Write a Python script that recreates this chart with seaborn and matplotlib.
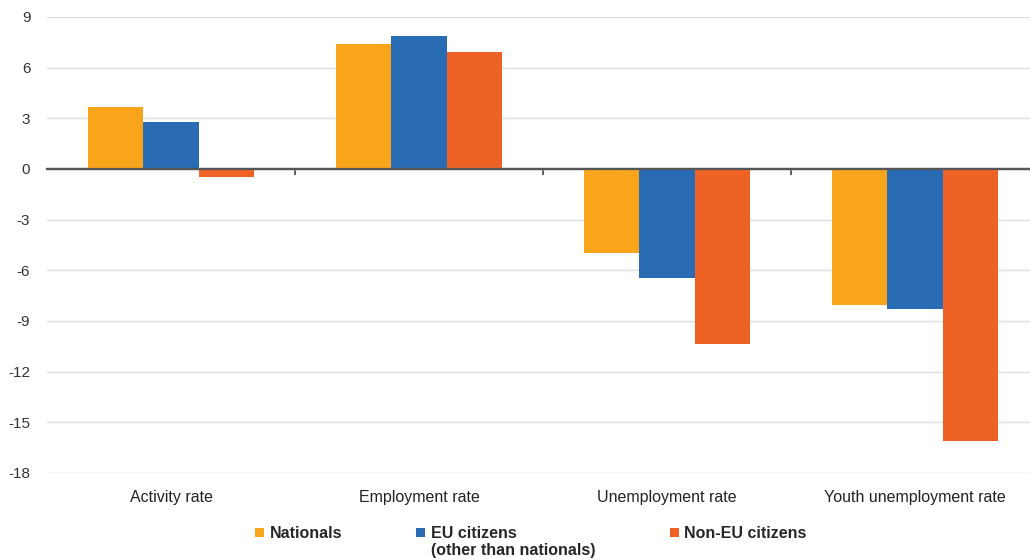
import matplotlib
matplotlib.use("Agg")
import matplotlib.pyplot as plt
from matplotlib.patches import Rectangle
from matplotlib.legend_handler import HandlerPatch
import seaborn as sns
import pandas as pd

categories = ["Activity rate", "Employment rate", "Unemployment rate", "Youth unemployment rate"]
series_names = ["Nationals", "EU citizens\n(other than nationals)", "Non-EU citizens"]
nationals = [3.7, 7.4, -5.0, -8.05]
eu_citizens = [2.8, 7.9, -6.45, -8.3]
non_eu_citizens = [-0.5, 6.9, -10.35, -16.1]
y_ticks = [9, 6, 3, 0, -3, -6, -9, -12, -15, -18]

colors = ["#F9A51B", "#2A6CB4", "#EE6325"]

rows = []
for name, vals in zip(series_names, [nationals, eu_citizens, non_eu_citizens]):
    for cat, v in zip(categories, vals):
        rows.append({"category": cat, "group": name, "value": v})
df = pd.DataFrame(rows)

sns.set_theme(style="white")
plt.rcParams["font.family"] = ["Liberation Sans", "DejaVu Sans"]
plt.rcParams["axes.unicode_minus"] = False

W, H = 1030, 560
fig = plt.figure(figsize=(W / 100, H / 100), dpi=100)
left, right = 47, 1039
top_px, bot_px = 17, 473
ax = fig.add_axes([left / W, (H - bot_px) / H, (right - left) / W, (bot_px - top_px) / H])

sns.barplot(data=df, x="category", y="value", hue="group", palette=colors,
            width=0.67, gap=0, saturation=1, linewidth=0, ax=ax, legend=True,
            errorbar=None)

ax.set_ylim(-18, 9)
ax.set_xlim(-0.5, 3.5)
ax.set_yticks(y_ticks)
ax.yaxis.grid(True, color="#DEDEDE", linewidth=1)
ax.set_axisbelow(True)
for s in ax.spines.values():
    s.set_visible(False)
ax.set_xlabel("")
ax.set_ylabel("")
ax.tick_params(axis="y", length=0, pad=12, labelsize=11, labelcolor="#333333")
ax.tick_params(axis="x", length=0, pad=12, labelsize=11.5, labelcolor="#222222")

# zero baseline drawn over the bars
ax.axhline(0, color="#555555", linewidth=1.6, zorder=5)

# small downward separators between categories
sec = ax.secondary_xaxis(18 / 27)
sec.set_xticks([0.5, 1.5, 2.5])
sec.set_xticklabels([])
for k, s in sec.spines.items():
    s.set_visible(k == "top")
    s.set_color("#555555")
    s.set_linewidth(1.6)
sec.tick_params(axis="x", which="both", length=4, width=1.2, color="#444444",
                top=True, bottom=False, labeltop=False, labelbottom=False,
                direction="in")


def top_square(legend, orig_handle, xdescent, ydescent, width, height, fontsize):
    # small square sitting level with the first text line
    side = 0.58 * fontsize
    shift = 0.62 * fontsize
    return Rectangle((-xdescent + width - side, -ydescent + (height - side) / 2 + shift),
                     side, side)


handles, labels = ax.get_legend_handles_labels()
ax.get_legend().remove()
labels = [lab if "\n" in lab else lab + "\n " for lab in labels]
leg = fig.legend(handles, labels, ncol=3, loc="upper left",
                 bbox_to_anchor=(238 / W, 1 - 512 / H), frameon=False,
                 handlelength=0.72, handleheight=0.72, handletextpad=0.35,
                 columnspacing=4.5, prop={"weight": "bold", "size": 11.5},
                 handler_map={Rectangle: HandlerPatch(patch_func=top_square)})
for t in leg.get_texts():
    t.set_linespacing(1.1)

fig.savefig("out.png", dpi=100)
